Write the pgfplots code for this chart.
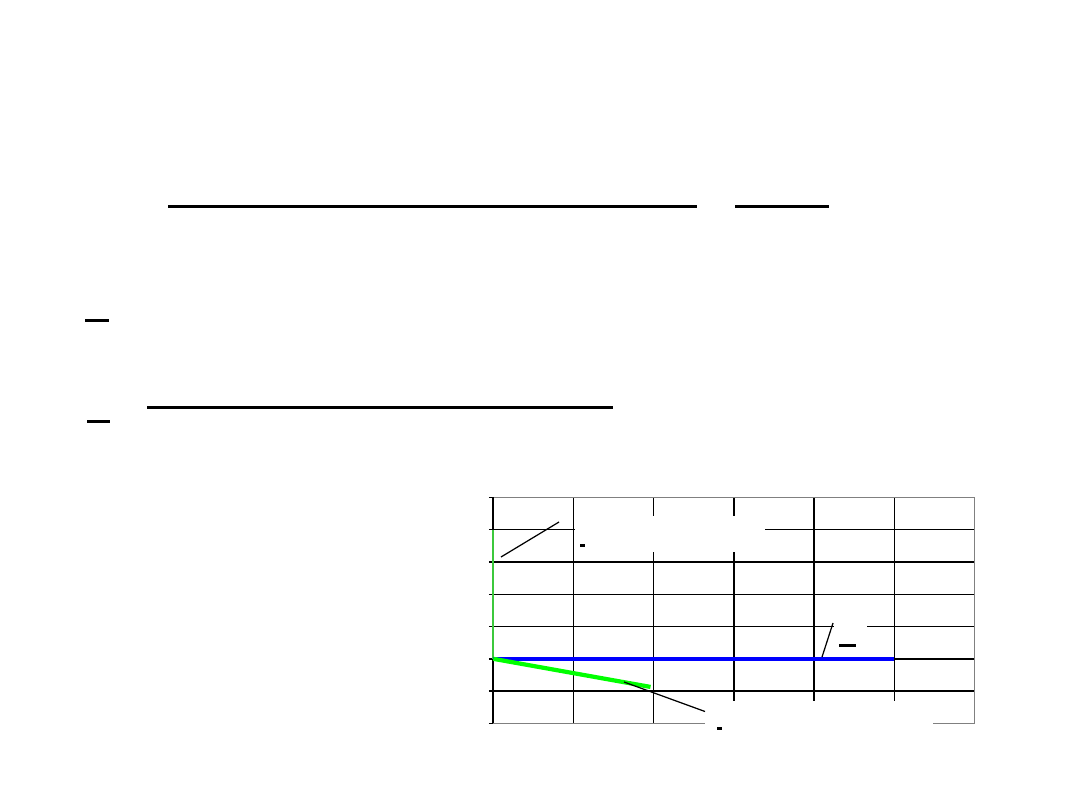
\documentclass[border=0pt]{standalone}
\usepackage{pgfplots}
\pgfplotsset{compat=1.18}
\definecolor{lightgreen}{RGB}{60,200,60}
\definecolor{brightgreen}{RGB}{0,255,0}
\definecolor{lineblue}{RGB}{0,0,255}

\begin{document}
\begin{tikzpicture}[x=0.01cm, y=-0.01cm]
% slide page, 1 unit = 1 pixel, y downwards
\useasboundingbox[fill=white] (0,0) rectangle (1080,810);

% rules of the slide text
\draw[line width=0.6pt] (168,206.5) -- (697,206.5);
\draw[line width=0.6pt] (735,206.5) -- (829,206.5);
\draw[line width=0.6pt] (85,320.5) -- (109,320.5);
\draw[line width=0.6pt] (147,407.5) -- (613,407.5);
\draw[line width=0.6pt] (87,421.5) -- (110,421.5);

\begin{axis}[
    at={(4.93cm,-7.23cm)}, anchor=south west,
    scale only axis,
    width=4.81cm, height=2.26cm,
    xmin=0, xmax=6,
    ymin=-2, ymax=5,
    clip=false,
    xtick={1,...,5},
    ytick={-1,...,4},
    extra y ticks={-2,5},
    extra y tick style={grid=none},
    xticklabel=\empty, yticklabel=\empty,
    extra y tick labels={},
    xtick style={draw=none},
    ytick pos=left,
    tick align=outside,
    major tick length=0.45mm,
    ytick style={black, line width=0.4pt},
    grid=major,
    major grid style={black, line width=0.4pt},
    axis line style={gray, line width=0.4pt},
]
\draw[black, line width=0.5pt] (axis cs:0,-2) -- (axis cs:0,5);

\addplot[lightgreen, line width=0.6pt] coordinates {(0,0) (0,4)};
\addplot[lineblue, line width=1pt] coordinates {(0,0) (5,0)};
\addplot[brightgreen, line width=1.2pt] coordinates {(0,0) (1.96,-0.87)};
\end{axis}

% white boxes of the label texts over the grid
\fill[white] (575,516) rectangle (765,552);
\fill[white] (834,612) rectangle (867,640);
\fill[white] (705,700.5) rectangle (933,745);

% leader lines and marks of the labels
\draw[black, line width=0.35pt] (501,557) -- (559,522);
\draw[black, line width=0.35pt] (822,657) -- (833,623);
\draw[black, line width=0.35pt] (624,682) -- (705,711.5);
\draw[black, line width=0.6pt] (580,545.5) -- (585,545.5);
\draw[black, line width=0.6pt] (839,645.5) -- (856,645.5);
\draw[black, line width=0.6pt] (717,728.5) -- (722,728.5);
\end{tikzpicture}
\end{document}
